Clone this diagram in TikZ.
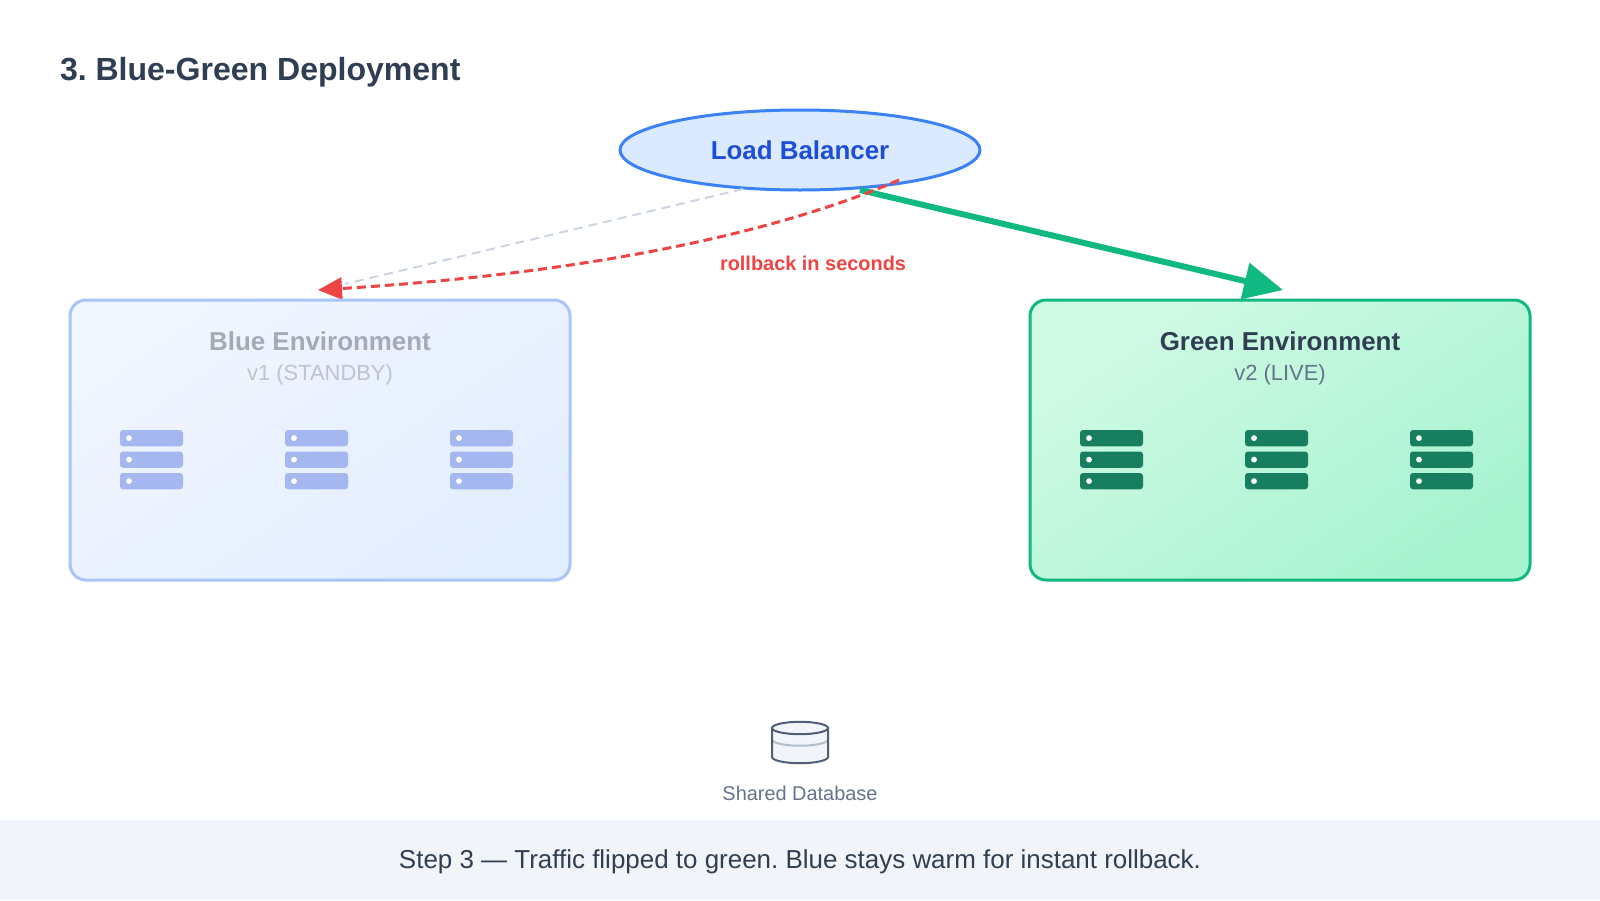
\documentclass[tikz,border=0pt]{standalone}
\usepackage{fontspec}
\setmainfont{Liberation Sans}
\usetikzlibrary{arrows.meta,shapes.geometric}
\definecolor{ink}{HTML}{2F3E52}
\definecolor{slate}{HTML}{64748B}
\definecolor{foot}{HTML}{F1F5F9}
\definecolor{lbfill}{HTML}{DBEAFE}
\definecolor{lbline}{HTML}{3B82F6}
\definecolor{lbtext}{HTML}{1D4ED8}
\definecolor{grn}{HTML}{10B981}
\definecolor{grnA}{HTML}{D1FAE5}
\definecolor{grnB}{HTML}{A7F3D0}
\definecolor{srvG}{HTML}{177F5F}
\definecolor{bluA}{HTML}{F1F6FF}
\definecolor{bluB}{HTML}{E2EDFD}
\definecolor{bluL}{HTML}{A8C6FA}
\definecolor{srvB}{HTML}{A4B8EF}
\definecolor{fadeT}{HTML}{A4ABB6}
\definecolor{fadeS}{HTML}{BCC4D0}
\definecolor{red1}{HTML}{EF4444}
\definecolor{gdash}{HTML}{CBD5E1}
\definecolor{dbline}{HTML}{4F5E76}
\definecolor{dbmid}{HTML}{B4BECB}
\tikzset{
 txt/.style={inner sep=0pt,outer sep=0pt,anchor=base},
 envbox/.style={draw,line width=3bp,rounded corners=16bp},
 srvbar/.style={rounded corners=3bp},
}
\newcommand{\fs}[1]{\fontsize{#1}{#1}\selectfont}
\newcommand{\srv}[3]{% x, bar colour, dot colour
 \foreach \yy in {430,451.5,473}{
  \fill[srvbar,#2] (#1,\yy) rectangle ++(63,16.3);
  \fill[#3] (#1+9,\yy+8.1) circle (2.9);
 }}
\frenchspacing
\begin{document}
\begin{tikzpicture}[x=1bp,y=-1bp]
\useasboundingbox (0,0) rectangle (1600,900);
\fill[white] (0,0) rectangle (1600,900);
\fill[foot] (0,820) rectangle (1600,900);
\node[txt,anchor=base west,text=ink,font=\fs{32.15}\bfseries] (title) at (60,80) {3. Blue-Green Deployment};
% load balancer
\node[ellipse,draw=lbline,fill=lbfill,line width=3bp,minimum width=360bp,minimum height=80bp,inner sep=0pt] (lb) at (800,150) {};
\node[txt,text=lbtext,font=\fs{26}\bfseries] (lbt) at (800,159) {Load Balancer};
% environments
\coordinate (blueTop) at (318,290);
\coordinate (blueGrey) at (345,284);
\coordinate (greenTop) at (1283,290);
\coordinate (lbG) at (860,190);
\coordinate (lbR) at (899,180);
\coordinate (lbB) at (743,189);
\draw[gdash,line width=2bp,dash pattern=on 9bp off 6bp] (lbB) -- (blueGrey);
\draw[grn,line width=6bp,-{Triangle[length=39bp,width=36bp]}] (lbG) -- (greenTop);
\draw[red1,line width=3bp,dash pattern=on 9bp off 5bp,-{Triangle[length=24bp,width=22bp]}] (lbR) .. controls (767,237) and (573,274) .. (blueTop);
\node[txt,anchor=base west,text=red1,font=\fs{20}\bfseries] (rb) at (720,270) {rollback in seconds};
\draw[envbox,draw=bluL,left color=bluA,right color=bluB,shading angle=35] (70,300) rectangle (570,580);
\draw[envbox,draw=grn,left color=grnA,right color=grnB,shading angle=35] (1030,300) rectangle (1530,580);
\node[txt,text=fadeT,font=\fs{26}\bfseries] (bt) at (320,350) {Blue Environment};
\node[txt,text=fadeS,font=\fs{22}] (bs) at (320,380) {v1 (STANDBY)};
\node[txt,text=ink,font=\fs{26}\bfseries] (gt) at (1280,350) {Green Environment};
\node[txt,text=slate,font=\fs{22}] (gs) at (1280,380) {v2 (LIVE)};
\srv{120}{srvB}{white}\srv{285}{srvB}{white}\srv{450}{srvB}{white}
\srv{1080}{srvG}{white}\srv{1245}{srvG}{white}\srv{1410}{srvG}{white}
% database
\fill[foot] (772,728) -- (772,757) arc[start angle=180,end angle=0,x radius=28,y radius=6.2] -- (828,728) arc[start angle=0,end angle=-180,x radius=28,y radius=6.2] -- cycle;
\draw[dbmid,line width=2bp] (772,739.5) arc[start angle=180,end angle=0,x radius=28,y radius=6.2];
\draw[dbline,line width=2bp] (772,728) -- (772,757) arc[start angle=180,end angle=0,x radius=28,y radius=6.2] -- (828,728);
\draw[dbline,line width=2bp] (800,728) ellipse[x radius=28,y radius=6.2];
\node[txt,text=slate,font=\fs{20}] (db) at (800,800) {Shared Database};
\node[txt,text=ink,font=\fs{26.05}] (cap) at (800,868) {Step 3 — Traffic flipped to green. Blue stays warm for instant rollback.};
\end{tikzpicture}
\end{document}
